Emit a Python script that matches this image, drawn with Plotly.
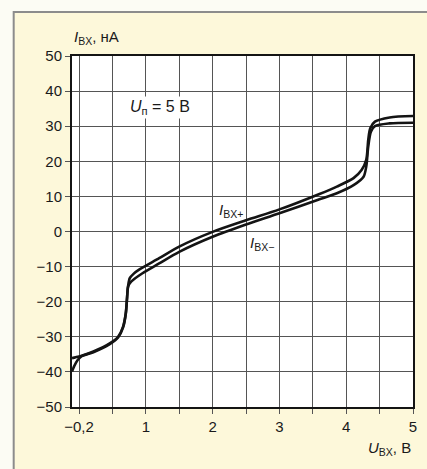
import plotly.graph_objects as go

# ---- data ----
x_plus = [-0.105, -0.05, 0.04, 0.215, 0.46, 0.585, 0.66, 0.70, 0.72, 0.735, 0.76, 0.82, 0.905,
          1.2, 1.5, 2.0, 2.5, 3.0, 3.6, 3.86, 4.11, 4.23, 4.30, 4.33, 4.36, 4.43, 4.65, 5.0]
y_plus = [-36.1, -35.8, -35.4, -34.2, -31.9, -30.0, -27.1, -23.3, -18.6, -15.5, -13.3, -12.0, -10.8,
          -7.6, -4.3, -0.1, 3.2, 6.3, 10.7, 12.8, 15.2, 17.5, 20.4, 26.1, 29.4, 31.3, 32.5, 32.9]

x_minus = [-0.105, -0.07, -0.02, 0.04, 0.215, 0.46, 0.585, 0.66, 0.70, 0.72, 0.735, 0.78, 0.95,
           1.2, 1.5, 2.0, 2.5, 3.0, 3.57, 3.86, 4.11, 4.26, 4.30, 4.33, 4.37, 4.43, 4.65, 5.0]
y_minus = [-39.9, -38.3, -36.6, -35.5, -34.4, -32.1, -30.2, -27.3, -23.5, -18.8, -15.7, -14.3, -11.9,
           -9.1, -5.8, -1.5, 2.0, 5.2, 9.0, 10.9, 13.2, 15.6, 18.5, 24.2, 28.4, 30.0, 30.8, 31.0]

x_tickvals = [0, 1, 2, 3, 4, 5]
x_ticktext = ["−0,2", "1", "2", "3", "4", "5"]
y_tickvals = [-50, -40, -30, -20, -10, 0, 10, 20, 30, 40, 50]

FONT = "Liberation Sans"
INK = "#141414"
GRID = "#555555"

fig = go.Figure()
for xs, ys in [(x_minus, y_minus), (x_plus, y_plus)]:
    fig.add_trace(go.Scatter(x=xs, y=ys, mode="lines",
                             line=dict(color=INK, width=2.6, shape="spline", smoothing=0.8),
                             showlegend=False, hoverinfo="skip"))

fig.update_layout(
    width=427, height=469, autosize=False,
    margin=dict(l=72, r=10, t=56, b=62),
    paper_bgcolor="#fcfcf4", plot_bgcolor="white",
    font=dict(family=FONT, size=15, color="#1a1a1a"),
    showlegend=False,
)
fig.update_xaxes(range=[-0.105, 5], tickvals=x_tickvals, ticktext=x_ticktext,
                 showgrid=True, gridcolor=GRID, gridwidth=1,
                 showline=True, linecolor=INK, linewidth=2, mirror=True,
                 ticks="outside", ticklen=5, tickcolor=GRID, tickwidth=1,
                 minor=dict(tick0=0, dtick=0.5, showgrid=True, gridcolor=GRID, gridwidth=1,
                            ticks="outside", ticklen=5, tickcolor=GRID, tickwidth=1),
                 zeroline=False, tickfont=dict(size=15))
fig.update_yaxes(range=[-50, 50], tickvals=y_tickvals,
                 showgrid=True, gridcolor=GRID, gridwidth=1,
                 showline=True, linecolor=INK, linewidth=2, mirror=True,
                 ticks="outside", ticklen=5, tickcolor=GRID, tickwidth=1,
                 zeroline=False, tickfont=dict(size=15))

# frame (cream panel) and white plot area
fig.add_shape(type="rect", xref="paper", yref="paper",
              x0=-0.171, x1=1.5, y0=-0.5, y1=1.1254,
              line=dict(color="#8c8c8c", width=2), fillcolor="#fdf8da", layer="below")
fig.add_shape(type="rect", xref="paper", yref="paper",
              x0=0, x1=1, y0=0, y1=1,
              line=dict(width=0), fillcolor="white", layer="below")

fig.add_annotation(xref="paper", yref="paper", x=0, y=1.053, xanchor="left", yanchor="middle",
                   text="<i>I</i><sub>BX</sub>, нА", showarrow=False, font=dict(size=15))
fig.add_annotation(xref="paper", yref="paper", x=1, y=-0.117, xanchor="right", yanchor="middle",
                   text="<i>U</i><sub>BX</sub>, В", showarrow=False, font=dict(size=15))
fig.add_annotation(x=0.73, y=35.2, xanchor="left", yanchor="middle",
                   text="<i>U</i><sub>п</sub> = 5 В", showarrow=False, font=dict(size=16),
                   bgcolor="white")
fig.add_annotation(x=2.06, y=6.1, xanchor="left", yanchor="middle",
                   text="<i>I</i><sub>BX+</sub>", showarrow=False, font=dict(size=15))
fig.add_annotation(x=2.53, y=-3.3, xanchor="left", yanchor="middle",
                   text="<i>I</i><sub>BX−</sub>", showarrow=False, font=dict(size=15))

fig.write_html("out.html", config={"displayModeBar": False},
               post_script="document.body.style.margin='0';")
